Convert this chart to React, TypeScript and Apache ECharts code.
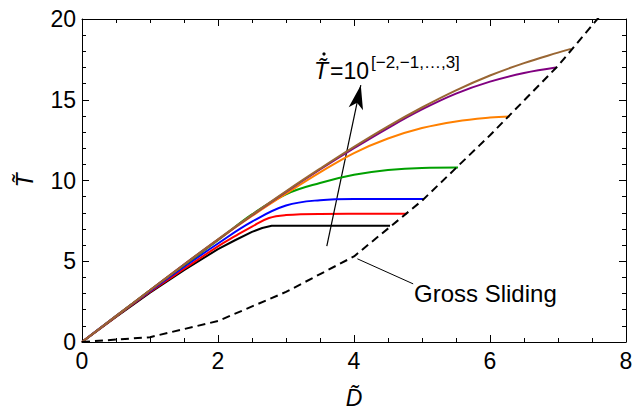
import React, { useEffect, useRef } from "react";
import * as echarts from "echarts";

const xTicks = [0, 2, 4, 6, 8];
const yTicks = [0, 5, 10, 15, 20];

const blackCurve: [number, number][] = [
  [0, 0], [0.5, 1.55], [1, 3.05], [1.5, 4.45], [2, 5.75], [2.25, 6.3], [2.5, 6.82], [2.65, 7.06], [2.79, 7.2], [3.5, 7.2], [4.53, 7.2],
];
const redCurve: [number, number][] = [
  [0, 0], [0.5, 1.57], [1, 3.1], [1.5, 4.52], [2, 5.92], [2.25, 6.55], [2.5, 7.15], [2.75, 7.68], [3, 7.86], [3.5, 7.93], [4.77, 7.94],
];
const blueCurve: [number, number][] = [
  [0, 0], [0.5, 1.6], [1, 3.15], [1.5, 4.65], [2, 6.1], [2.5, 7.45], [3, 8.45], [3.5, 8.78], [4, 8.85], [5.02, 8.85],
];
const greenCurve: [number, number][] = [
  [0, 0], [0.5, 1.6], [1, 3.2], [1.5, 4.75], [2, 6.3], [2.5, 7.9], [3, 9.15], [3.5, 9.85], [4, 10.35], [4.5, 10.65], [5, 10.78], [5.53, 10.8],
];
const orangeCurve: [number, number][] = [
  [0, 0], [0.5, 1.6], [1, 3.2], [1.5, 4.78], [2, 6.33], [2.5, 7.8], [3, 9.18], [3.5, 10.5], [4, 11.7], [4.5, 12.6], [5, 13.25], [5.5, 13.66], [6, 13.9], [6.29, 13.97],
];
const purpleCurve: [number, number][] = [
  [0, 0], [0.5, 1.6], [1, 3.2], [1.5, 4.8], [2, 6.35], [2.5, 7.85], [3, 9.3], [3.5, 10.68], [4, 12.0], [4.5, 13.25], [5, 14.4], [5.5, 15.38], [6, 16.12], [6.5, 16.66], [6.97, 17.0],
];
const brownCurve: [number, number][] = [
  [0, 0], [0.5, 1.6], [1, 3.2], [1.5, 4.8], [2, 6.36], [2.5, 7.87], [3, 9.33], [3.5, 10.73], [4, 12.08], [4.5, 13.35], [5, 14.52], [5.5, 15.58], [6, 16.5], [6.5, 17.27], [7, 17.92], [7.19, 18.15],
];
const grossSliding: [number, number][] = [
  [0, 0], [1, 0.3], [2, 1.3], [3, 3.1], [4, 5.3], [5, 8.75], [6, 12.8], [7, 17.1], [7.7, 20.6],
];

const arrowFrom: [number, number] = [3.6, 5.94];
const arrowTo: [number, number] = [4.1, 15.9];
const leaderFrom: [number, number] = [4.05, 5.15];
const leaderTo: [number, number] = [4.87, 3.6];

const curveColors = ["#000000", "#ff0000", "#0000ff", "#00a000", "#ff8000", "#800080", "#996633"];
const curves = [blackCurve, redCurve, blueCurve, greenCurve, orangeCurve, purpleCurve, brownCurve];

const FONT = "'Liberation Sans', Arial, sans-serif";

export default function App() {
  const ref = useRef<HTMLDivElement>(null);
  useEffect(() => {
    if (!ref.current) return;
    document.body.style.margin = "0";
    const chart = echarts.init(ref.current, undefined, { renderer: "svg" });
    const axisCommon = {
      type: "value" as const,
      axisLine: { show: true, onZero: false, lineStyle: { color: "#000", width: 1 } },
      axisTick: { show: true, inside: true, length: 7, lineStyle: { color: "#000", width: 1 } },
      splitLine: { show: false },
    };
    const labelStyle = { color: "#000", fontSize: 23, fontFamily: FONT };
    const series: any[] = curves.map((c, i) => ({
      type: "line",
      data: c,
      xAxisIndex: 0,
      yAxisIndex: 0,
      showSymbol: false,
      smooth: i === 0 ? false : 0.4,
      lineStyle: { color: curveColors[i], width: 2 },
      z: 3 + i,
    }));
    series.push({
      type: "line",
      data: grossSliding,
      showSymbol: false,
      clip: true,
      lineStyle: { color: "#000", width: 2, type: [8, 5] },
      z: 12,
      markLine: {
        silent: true,
        symbol: ["none", "arrow"],
        symbolSize: [11, 24],
        label: { show: false },
        lineStyle: { color: "#000", width: 1.2, type: "solid" },
        data: [[{ coord: arrowFrom }, { coord: arrowTo }]],
      },
    });
    series.push({
      type: "line",
      data: [],
      showSymbol: false,
      markLine: {
        silent: true,
        symbol: ["none", "none"],
        label: { show: false },
        lineStyle: { color: "#000", width: 1, type: "solid" },
        data: [[{ coord: leaderFrom }, { coord: leaderTo }]],
      },
    });
    chart.setOption({
      animation: false,
      grid: { left: 82, right: 13, top: 19, bottom: 71 },
      xAxis: [
        {
          ...axisCommon,
          min: xTicks[0],
          max: xTicks[xTicks.length - 1],
          interval: 2,
          minorTick: { show: true, splitNumber: 4, length: 4, lineStyle: { color: "#000" } },
          axisLabel: { ...labelStyle, margin: 7 },
          name: "D\u0303",
          nameLocation: "middle",
          nameGap: 44,
          nameTextStyle: { color: "#000", fontSize: 23, fontStyle: "italic", fontFamily: FONT },
        },
        {
          ...axisCommon,
          position: "top",
          min: xTicks[0],
          max: xTicks[xTicks.length - 1],
          interval: 2,
          minorTick: { show: true, splitNumber: 4, length: 4, lineStyle: { color: "#000" } },
          axisLabel: { show: false },
        },
      ],
      yAxis: [
        {
          ...axisCommon,
          min: yTicks[0],
          max: yTicks[yTicks.length - 1],
          interval: 5,
          minorTick: { show: true, splitNumber: 5, length: 4, lineStyle: { color: "#000" } },
          axisLabel: { ...labelStyle, margin: 6 },
          name: "T\u0303",
          nameLocation: "middle",
          nameRotate: 90,
          nameGap: 46,
          nameTextStyle: { color: "#000", fontSize: 23, fontStyle: "italic", fontFamily: FONT },
        },
        {
          ...axisCommon,
          position: "right",
          min: yTicks[0],
          max: yTicks[yTicks.length - 1],
          interval: 5,
          minorTick: { show: true, splitNumber: 5, length: 4, lineStyle: { color: "#000" } },
          axisLabel: { show: false },
        },
      ],
      series,
      graphic: [
        {
          type: "text",
          left: 414,
          top: 281,
          style: { text: "Gross Sliding", fill: "#000", font: `24px ${FONT}` },
        },
        {
          type: "text",
          left: 314,
          top: 59,
          style: { text: "T\u0303", fill: "#000", font: `italic 23px ${FONT}` },
        },
        { type: "circle", shape: { cx: 324, cy: 54, r: 1.6 }, style: { fill: "#000" } },
        {
          type: "text",
          left: 330,
          top: 59,
          style: { text: "=10", fill: "#000", font: `23px ${FONT}` },
        },
        {
          type: "text",
          left: 371,
          top: 54,
          style: { text: "[\u22122,\u22121,\u2026,3]", fill: "#000", font: `17px ${FONT}` },
        },
      ],
    });
    return () => chart.dispose();
  }, []);
  return <div ref={ref} style={{ width: 639, height: 414 }} />;
}
